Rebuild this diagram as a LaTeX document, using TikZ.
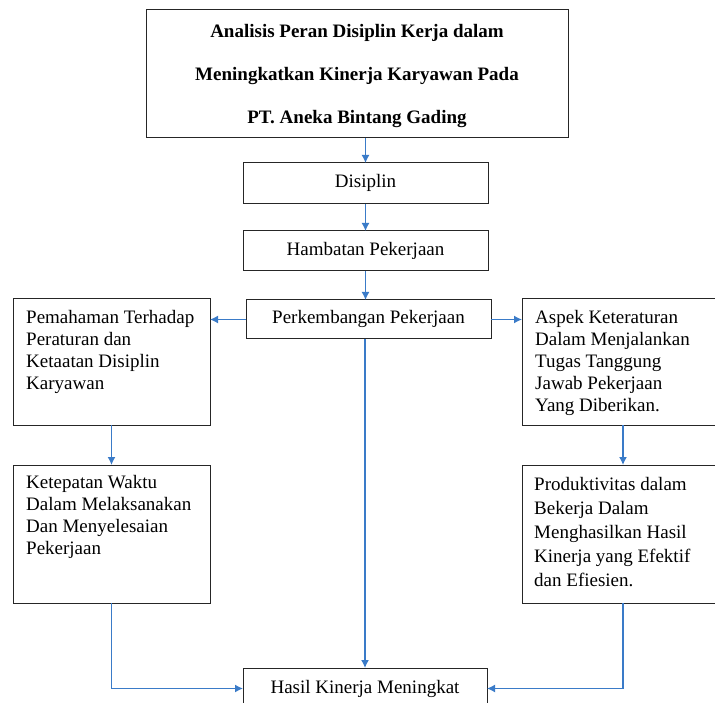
\documentclass[tikz,border=0pt]{standalone}
\usepackage{fontspec}
\setmainfont{Liberation Serif}
\usetikzlibrary{arrows.meta}
\definecolor{arrowblue}{RGB}{58,123,200}
\tikzset{
  box/.style={draw=black!85, line width=1pt, inner sep=0pt, outer sep=0pt, fill=white},
  onebox/.style={box, font=\fontsize{19}{22}\selectfont, text height=13pt, text depth=4pt},
  bodytext/.style={anchor=north west, inner sep=0pt, align=left, font=\fontsize{19}{22}\selectfont},
  arr/.style={draw=arrowblue, line width=1.4pt, -{Latex[length=8pt,width=8pt]}}
}
\begin{document}
\begin{tikzpicture}[x=1pt,y=-1pt]
\useasboundingbox (0,0) rectangle (715,703);
\clip (0,0) rectangle (715,703);
% title
\node[box, minimum width=422pt, minimum height=128pt] (title) at (357,74) {};
\node[anchor=north, inner sep=0pt, align=center, font=\fontsize{19}{43}\selectfont\bfseries] (titletext) at (357,6.9)
  {\strut Analisis Peran Disiplin Kerja dalam\\Meningkatkan Kinerja Karyawan Pada\\PT. Aneka Bintang Gading};
% centre column
\node[onebox, minimum width=245pt, minimum height=41pt] (disiplin) at (365.5,183.5) {Disiplin};
\node[onebox, minimum width=245pt, minimum height=40pt] (hambatan) at (365.5,251) {Hambatan Pekerjaan};
\node[onebox, minimum width=245pt, minimum height=39pt] (perk) at (368.5,319.5) {Perkembangan Pekerjaan};
\node[onebox, minimum width=244pt, minimum height=41pt] (hasil) at (365,688.5) {Hasil Kinerja Meningkat};
% side boxes
\node[box, minimum width=197pt, minimum height=126pt] (l1) at (111.5,362) {};
\node[bodytext] (l1text) at (26,307.6) {\strut Pemahaman Terhadap\\Peraturan dan\\Ketaatan Disiplin\\Karyawan};
\node[box, minimum width=202pt, minimum height=126pt] (r1) at (623,362) {};
\node[bodytext] (r1text) at (535,307.6) {\strut Aspek Keteraturan\\Dalam Menjalankan\\Tugas Tanggung\\Jawab Pekerjaan\\Yang Diberikan.};
\node[box, minimum width=197pt, minimum height=138pt] (l2) at (111.5,534) {};
\node[bodytext] (l2text) at (26,472.6) {\strut Ketepatan Waktu\\Dalam Melaksanakan\\Dan Menyelesaian\\Pekerjaan};
\node[box, minimum width=202pt, minimum height=138pt] (r2) at (623,534) {};
\node[bodytext, font=\fontsize{19}{24}\selectfont] (r2text) at (534,473.2) {\strut Produktivitas dalam\\Bekerja Dalam\\Menghasilkan Hasil\\Kinerja yang Efektif\\dan Efiesien.};
% connectors
\draw[arr] (disiplin.north |- title.south) -- (disiplin.north);
\draw[arr] (disiplin.south) -- (disiplin.south |- hambatan.north);
\draw[arr] (hambatan.south) -- (hambatan.south |- perk.north);
\draw[arr] (perk.west) -- (perk.west -| l1.east);
\draw[arr] (perk.east) -- (perk.east -| r1.west);
\draw[arr] (hasil.north |- perk.south) -- (hasil.north);
\draw[arr] (l1.south) -- (l2.north);
\draw[arr] (r1.south) -- (r2.north);
\draw[arr] (l2.south) |- (hasil.west);
\draw[arr] (r2.south) |- (hasil.east);
\end{tikzpicture}
\end{document}
